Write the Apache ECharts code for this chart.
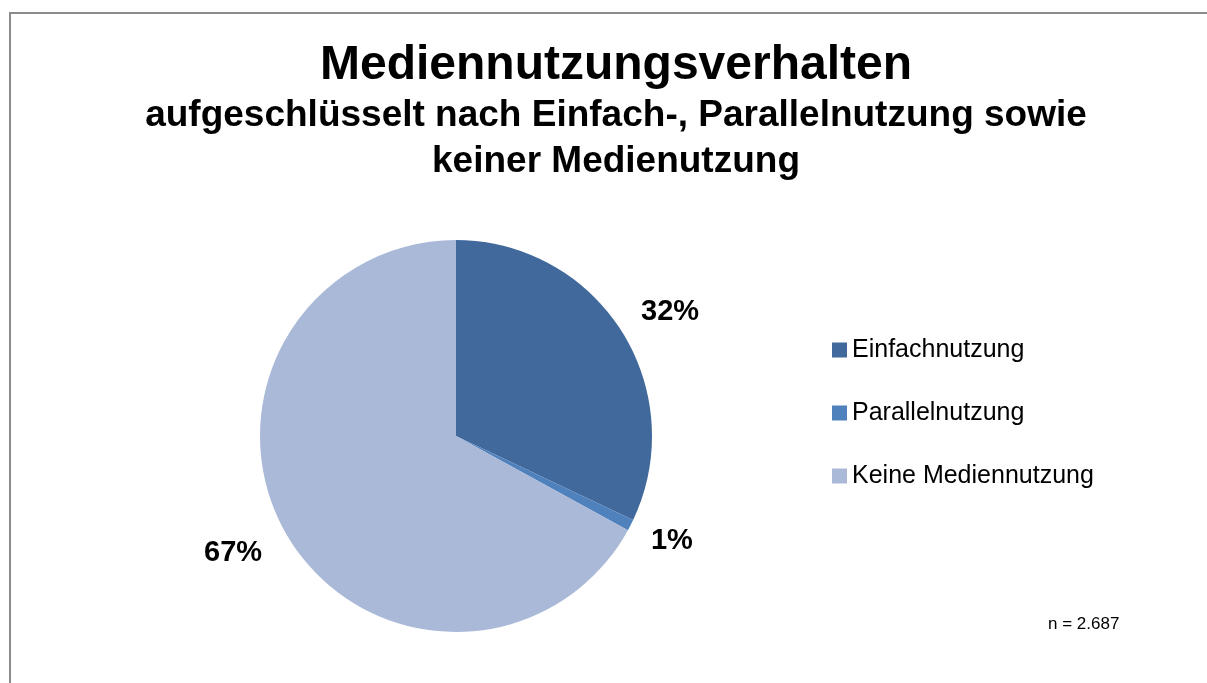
<!DOCTYPE html>
<html>
<head>
<meta charset="utf-8">
<title>Mediennutzungsverhalten</title>
<script src="https://cdn.jsdelivr.net/npm/echarts@6/dist/echarts.min.js"></script>
<style>
  html, body { margin: 0; padding: 0; background: #ffffff; }
  #main { width: 1207px; height: 683px; }
</style>
</head>
<body>
<div id="main"></div>
<script>
// Kategorien und Werte (n = 2.687)
var categories = ['Einfachnutzung', 'Parallelnutzung', 'Keine Mediennutzung'];
var counts = [861, 25, 1801];
var colors = ['#41699C', '#4F81BD', '#AAB9D8'];
var sampleText = 'n = 2.687';

// Abstaende der Prozent-Labels je Segment
var labelLen = [36, 34, 34];
var labelDist = [-11, -10, -4];

var fontName = '"Liberation Sans", Arial, sans-serif';

var pieData = [];
for (var i = 0; i < categories.length; i++) {
    pieData.push({
        name: categories[i],
        value: counts[i],
        itemStyle: { color: colors[i] },
        label: { distanceToLabelLine: labelDist[i] },
        labelLine: { show: false, length: labelLen[i], length2: 0 }
    });
}

var myChart = echarts.init(document.getElementById('main'));
var option = {
    backgroundColor: '#ffffff',
    animation: false,
    title: [
        {
            text: 'Mediennutzungsverhalten',
            left: 611,
            top: 37,
            textAlign: 'center',
            textStyle: { fontFamily: fontName, fontSize: 48, fontWeight: 'bold', color: '#000000' }
        },
        {
            text: 'aufgeschlüsselt nach Einfach-, Parallelnutzung sowie\nkeiner Medienutzung',
            left: 611,
            top: 88,
            textAlign: 'center',
            textStyle: { fontFamily: fontName, fontSize: 37, fontWeight: 'bold', color: '#000000', lineHeight: 46 }
        },
        {
            text: sampleText,
            left: 1043,
            top: 611,
            textStyle: { fontFamily: fontName, fontSize: 17, fontWeight: 'normal', color: '#000000' }
        }
    ],
    graphic: [
        {
            type: 'rect',
            shape: { x: 10, y: 13, width: 1300, height: 800 },
            style: { fill: null, stroke: '#8c8c8c', lineWidth: 2 },
            silent: true
        }
    ],
    legend: {
        orient: 'vertical',
        left: 827,
        top: 332,
        icon: 'rect',
        itemWidth: 15,
        itemHeight: 15,
        itemGap: 37,
        data: categories,
        textStyle: { fontFamily: fontName, fontSize: 25, color: '#000000', lineHeight: 26 }
    },
    series: [
        {
            type: 'pie',
            center: [456, 436],
            radius: 196,
            startAngle: 90,
            clockwise: true,
            avoidLabelOverlap: false,
            label: {
                show: true,
                position: 'outside',
                fontFamily: fontName,
                fontSize: 29,
                fontWeight: 'bold',
                color: '#000000',
                formatter: function (p) { return Math.round(p.percent) + '%'; }
            },
            labelLine: { show: false },
            itemStyle: { borderWidth: 0 },
            emphasis: { disabled: true },
            data: pieData
        }
    ]
};
myChart.setOption(option);
</script>
</body>
</html>
